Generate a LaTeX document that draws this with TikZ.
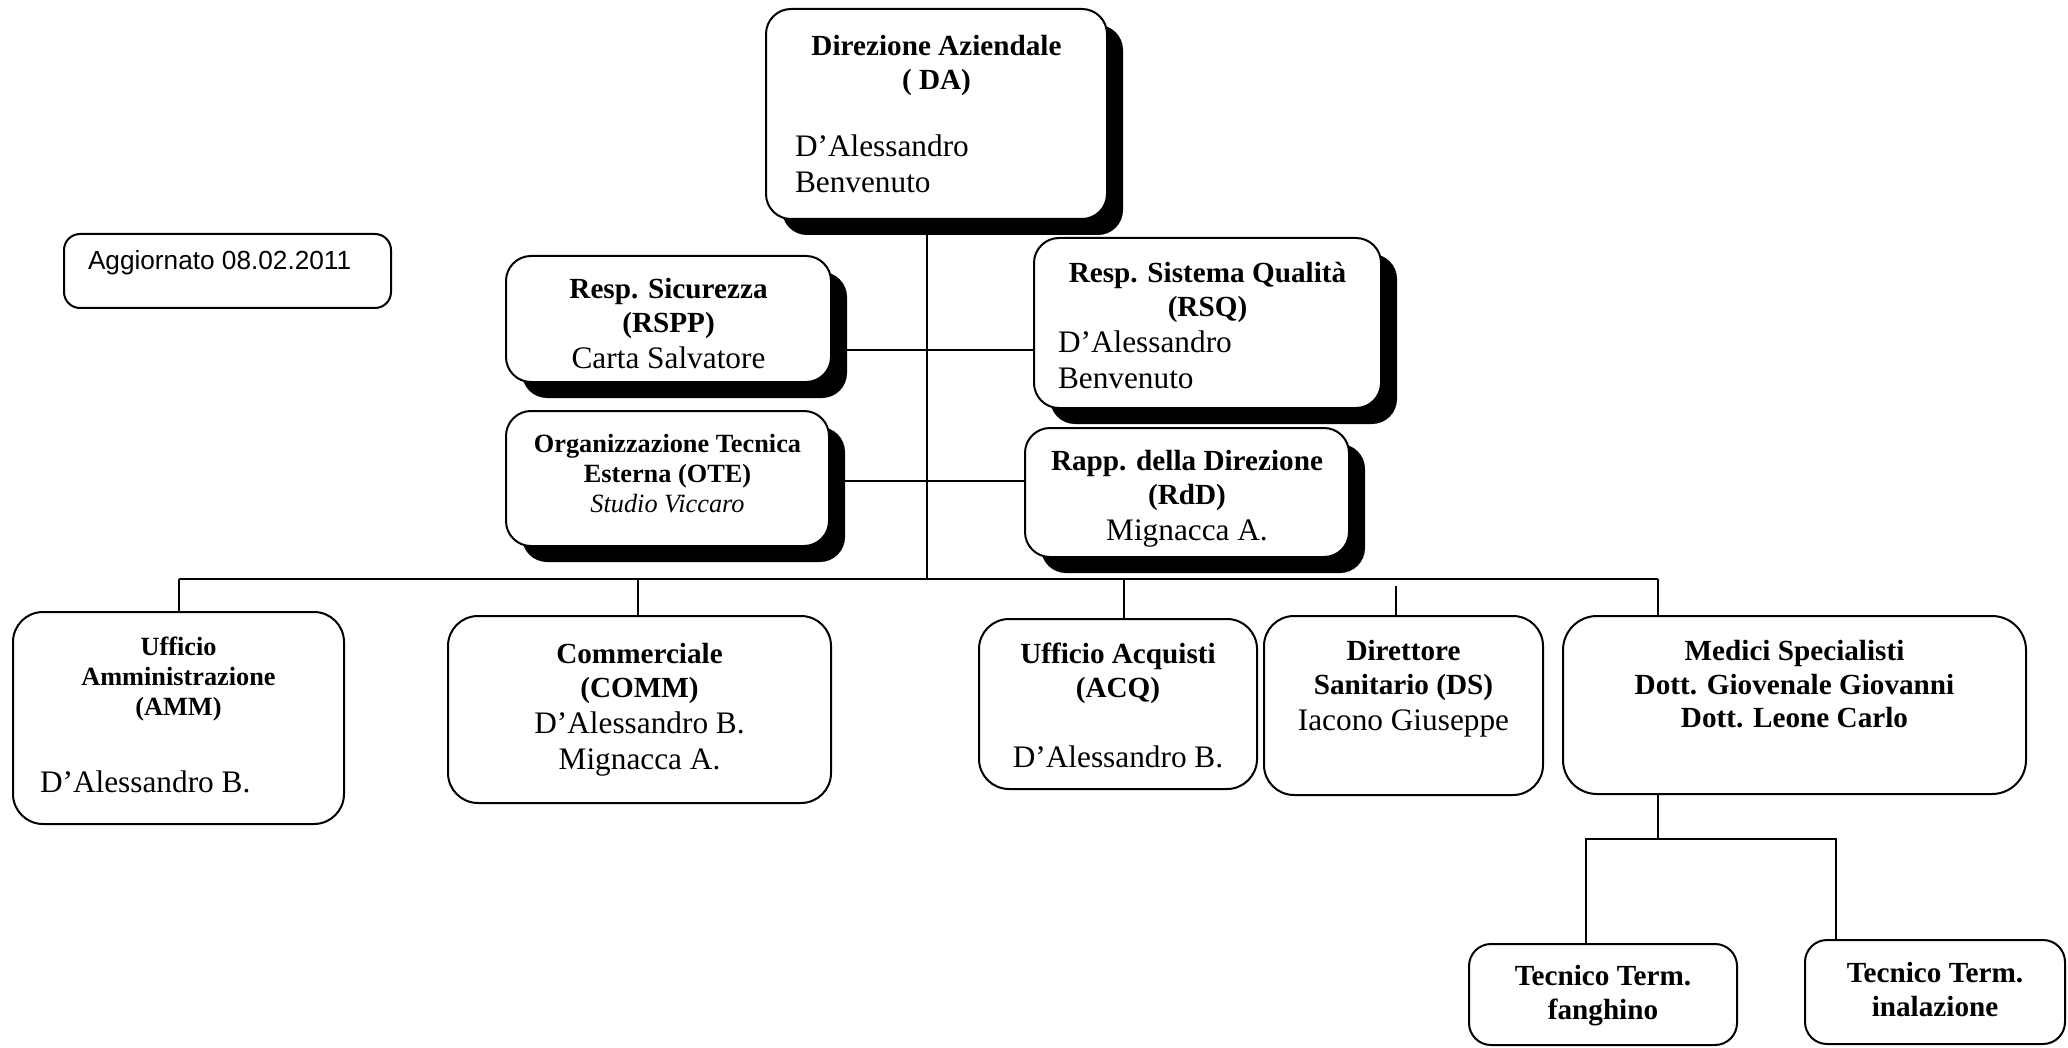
\documentclass[tikz,border=0pt]{standalone}
\usepackage{fontspec}
\setmainfont{Liberation Serif}
\newfontfamily\arialfont{Liberation Sans}
\usetikzlibrary{positioning,shadows}
\setlength{\parindent}{0pt}
\newcommand\hdfont{\fontsize{29.2}{33.5}\selectfont\bfseries\spaceskip=0pt\xspaceskip=0pt}
\newcommand\smfont{\fontsize{26.3}{30}\selectfont\bfseries\spaceskip=0pt\xspaceskip=0pt}
\newcommand\nmfont{\fontsize{31.3}{36}\selectfont\mdseries\spaceskip=0pt\xspaceskip=0pt}

\begin{document}
\begin{tikzpicture}[x=1pt, y=-1pt, line width=2pt,
    box/.style={draw, rounded corners=#1, inner sep=0pt},
    box/.default=30pt,
    raised/.style={box=25pt, fill=white,
      drop shadow={shadow xshift=16pt, shadow yshift=-16pt, opacity=1, fill=black}},
    txt/.style={anchor=north, inner sep=0pt, align=flush center, text width=#1}]
    \useasboundingbox (0,0) rectangle (2068,1048);

    % vertici
    \node [raised, minimum width=341pt, minimum height=210pt] (da) at (936.5,114) {};
    \node [box=16pt, minimum width=327pt, minimum height=74pt] (agg) at (227.5,271) {};
    \node [raised, minimum width=325pt, minimum height=126pt] (rspp) at (668.5,319) {};
    \node [raised, minimum width=347pt, minimum height=170pt] (rsq) at (1207.5,323) {};
    \node [raised, minimum width=323pt, minimum height=135pt] (ote) at (667.5,478.5) {};
    \node [raised, minimum width=324pt, minimum height=129pt] (rdd) at (1187,492.5) {};

    % uffici
    \node [box, minimum width=331pt, minimum height=212pt] (amm) at (178.5,718) {};
    \node [box, minimum width=383pt, minimum height=187pt] (comm) at (639.5,709.5) {};
    \node [box, minimum width=278pt, minimum height=170pt] (acq) at (1118,704) {};
    \node [box, minimum width=279pt, minimum height=179pt] (ds) at (1403.5,705.5) {};
    \node [box=34pt, minimum width=463pt, minimum height=178pt] (med) at (1794.5,705) {};
    \node [box=22pt, minimum width=268pt, minimum height=101pt] (fang) at (1603,994.5) {};
    \node [box=22pt, minimum width=260pt, minimum height=104pt] (inal) at (1935,992) {};

    % testi
    \node [txt=283pt, below=26.3pt of da.north] (da-t)
      {\hdfont Direzione Aziendale\\( DA)\par\vspace{31pt}{\raggedright\nmfont D’Alessandro\\Benvenuto\par}};
    \node [anchor=north west, inner sep=0pt, below right=17pt and 24pt of agg.north west] (agg-t)
      {\arialfont\fontsize{26.2}{30}\selectfont Aggiornato 08.02.2011};
    \node [txt=300pt, below=22.3pt of rspp.north] (rspp-t)
      {\hdfont Resp. Sicurezza\\(RSPP)\par\nmfont Carta Salvatore\par};
    \node [txt=299pt, below=24.3pt of rsq.north] (rsq-t)
      {\hdfont Resp. Sistema Qualità\\(RSQ)\par{\raggedright\nmfont D’Alessandro\\Benvenuto\par}};
    \node [txt=310pt, below=22.9pt of ote.north] (ote-t)
      {\smfont Organizzazione Tecnica\\Esterna (OTE)\\{\mdseries\itshape Studio Viccaro}\par};
    \node [txt=310pt, below=22.3pt of rdd.north] (rdd-t)
      {\hdfont Rapp. della Direzione\\(RdD)\par\nmfont Mignacca A.\par};
    \node [txt=277pt, below=24.8pt of amm.north] (amm-t)
      {\smfont Ufficio\\Amministrazione\\(AMM)\par\vspace{41pt}{\raggedright\nmfont D’Alessandro B.\par}};
    \node [txt=360pt, below=27.3pt of comm.north] (comm-t)
      {\hdfont Commerciale\\(COMM)\par\nmfont D’Alessandro B.\\Mignacca A.\par};
    \node [txt=270pt, below=24.3pt of acq.north] (acq-t)
      {\hdfont Ufficio Acquisti\\(ACQ)\par\vspace{34pt}\nmfont D’Alessandro B.\par};
    \node [txt=270pt, below=24.3pt of ds.north] (ds-t)
      {\hdfont Direttore\\Sanitario (DS)\par\nmfont Iacono Giuseppe\par};
    \node [txt=440pt, below=24.3pt of med.north] (med-t)
      {\hdfont Medici Specialisti\\Dott. Giovenale Giovanni\\Dott. Leone Carlo\par};
    \node [txt=260pt, below=21.3pt of fang.north] (fang-t)
      {\hdfont Tecnico Term.\\fanghino\par};
    \node [txt=250pt, below=22.3pt of inal.north] (inal-t)
      {\hdfont Tecnico Term.\\inalazione\par};

    % collegamenti
    \coordinate (trunk) at (927,579);
    \coordinate (barL) at (179,579);
    \coordinate (barR) at (1658,579);
    \draw (trunk |- da.south) -- (trunk);
    \draw (rspp.east |- 0,350) -- (rsq.west |- 0,350);
    \draw (ote.east |- 0,481) -- (rdd.west |- 0,481);
    \draw (barL) -- (barR);
    \foreach \x/\b in {179/amm, 638/comm, 1124/acq, 1658/med}
      \draw (\x,579) -- (\x,579 |- \b.north);
    \draw (1396,586) -- (1396,586 |- ds.north);
    \draw (1658,0 |- med.south) -- (1658,839);
    \draw (1586,0 |- fang.north) |- (1836,839) -- (1836,0 |- inal.north);
\end{tikzpicture}
\end{document}
